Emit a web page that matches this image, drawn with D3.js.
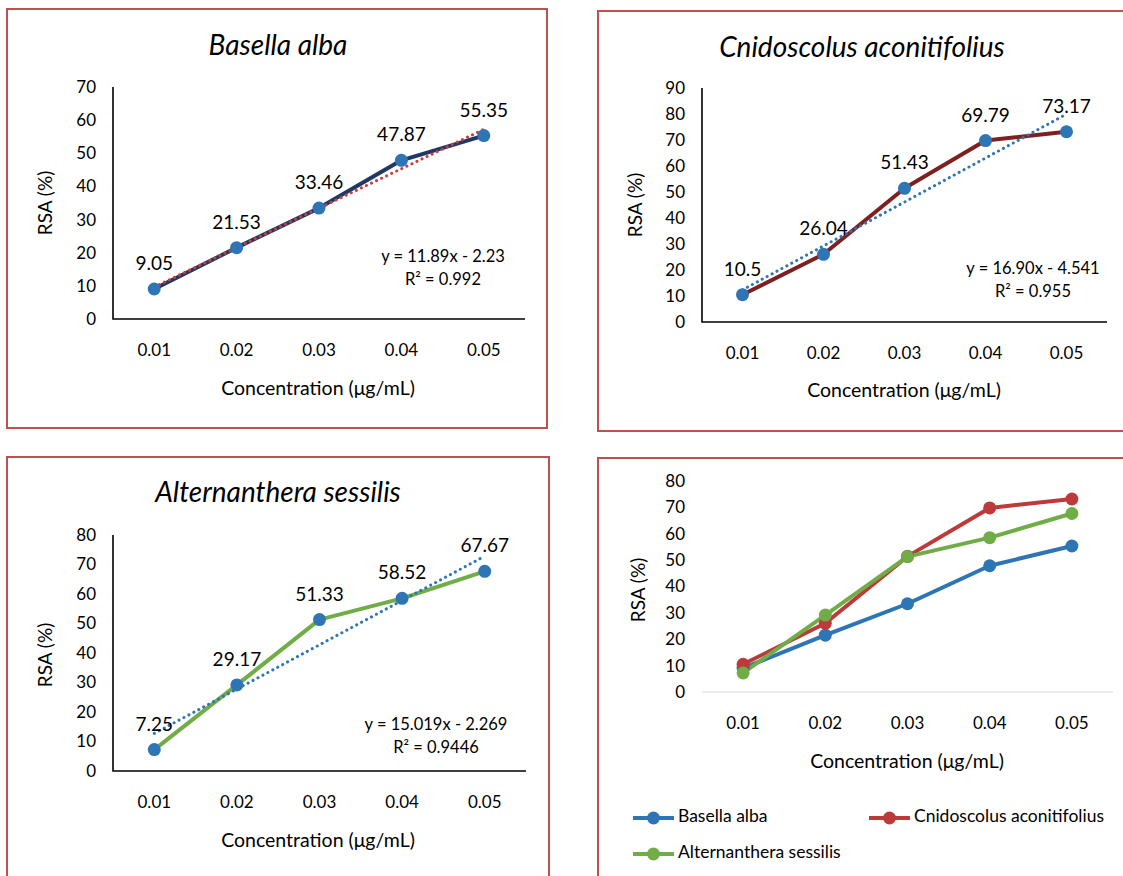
<!DOCTYPE html>
<html><head><meta charset="utf-8">
<script src="https://cdn.jsdelivr.net/npm/d3@7"></script>
<style>body{margin:0;background:#fff}svg{display:block;font-family:Lato,"Open Sans",sans-serif}</style>
</head><body>
<svg id="c" width="1123" height="876"></svg>
<script>
const categories = ["0.01","0.02","0.03","0.04","0.05"];
const basella = [9.05, 21.53, 33.46, 47.87, 55.35];
const cnidoscolus = [10.5, 26.04, 51.43, 69.79, 73.17];
const alternanthera = [7.25, 29.17, 51.33, 58.52, 67.67];
const seriesNames = ["Basella alba", "Cnidoscolus aconitifolius", "Alternanthera sessilis"];
const trendSlope = [11.89, 16.90, 15.019];
const trendIntercept = [-2.23, -4.541, -2.269];
const equationText = ["y = 11.89x - 2.23", "y = 16.90x - 4.541", "y = 15.019x - 2.269"];
const r2Text = ["R² = 0.992", "R² = 0.955", "R² = 0.9446"];
const yMaxes = [70, 90, 80, 80];
const xTitle = "Concentration (μg/mL)";
const yTitle = "RSA (%)";

const svg = d3.select("#c");
const BLUE = "#2e75b6", RED = "#be3a3a", GREEN = "#70ad47";

function frame(x0,y0,x1,y1){
  svg.append("rect").attr("x",x0).attr("y",y0).attr("width",x1-x0).attr("height",y1-y0)
    .attr("fill","none").attr("stroke","#c0504d").attr("stroke-width",2);
}

function panel(o){
  const g = svg.append("g");
  const x = d3.scaleBand().domain(categories).range([o.x0,o.x1]);
  const y = d3.scaleLinear().domain([0,o.yMax]).range([o.yb,o.yt]);
  const cx = c => x(c)+x.bandwidth()/2;
  const yAxis = d3.axisLeft(y).ticks(o.yMax/10).tickSize(0).tickPadding(0);
  const ya = g.append("g").attr("transform",`translate(${o.tickRight},0)`).call(yAxis);
  ya.select(".domain").remove();
  ya.selectAll("text").attr("font-size",17).attr("fill","#000").attr("font-family","Lato,sans-serif");
  const xAxis = d3.axisBottom(x).tickSize(0).tickPadding(0);
  const xa = g.append("g").attr("transform",`translate(0,${o.yb+25})`).call(xAxis);
  xa.select(".domain").remove();
  xa.selectAll("text").attr("font-size",17).attr("fill","#000").attr("font-family","Lato,sans-serif");
  if(o.gray){
    g.append("line").attr("x1",o.x0).attr("x2",o.x1).attr("y1",o.yb).attr("y2",o.yb).attr("stroke","#d9d9d9").attr("stroke-width",1.2);
  } else {
    g.append("path").attr("d",`M${o.x0},${o.yt}V${o.yb}H${o.x1}`).attr("fill","none").attr("stroke","#000").attr("stroke-width",1.6);
  }
  if(o.title) g.append("text").attr("x",o.titleX).attr("y",o.titleY).attr("text-anchor","middle")
      .attr("font-size",28).attr("font-style","italic").text(o.title);
  g.append("text").attr("transform",`translate(${o.ylabX},${o.ylabY}) rotate(-90)`).attr("text-anchor","middle")
    .attr("dominant-baseline","middle").attr("font-size",19).text(yTitle);
  g.append("text").attr("x",o.xlabX).attr("y",o.xlabY).attr("text-anchor","middle")
    .attr("dominant-baseline","middle").attr("font-size",19.5).text(xTitle);
  const line = d3.line().x((d,i)=>cx(categories[i])).y(d=>y(d));
  o.series.forEach(s=>{
    g.append("path").datum(s.values).attr("d",line).attr("fill","none").attr("stroke",s.color)
      .attr("stroke-width",4).attr("stroke-linejoin","round");
  });
  if(o.trend!==undefined){
    const t = o.trend;
    const tv = categories.map((c,i)=>trendSlope[t]*(i+1)+trendIntercept[t]);
    g.append("path").datum([tv[0],tv[4]]).attr("d",d3.line().x((d,i)=>cx(categories[i*4])).y(d=>y(d)))
      .attr("fill","none").attr("stroke",o.trendColor).attr("stroke-width",3)
      .attr("stroke-dasharray","0.1,5.5").attr("stroke-linecap","round");
  }
  o.series.forEach(s=>{
    g.selectAll(null).data(s.values).enter().append("circle")
      .attr("cx",(d,i)=>cx(categories[i])).attr("cy",d=>y(d)).attr("r",6.5).attr("fill",s.marker);
  });
  if(o.labels){
    g.selectAll(null).data(o.series[0].values).enter().append("text")
      .attr("x",(d,i)=>cx(categories[i])).attr("y",d=>y(d)-19).attr("text-anchor","middle")
      .attr("font-size",19).text(d=>d);
  }
  if(o.trend!==undefined){
    g.append("text").attr("x",o.eqX).attr("y",o.eqY).attr("text-anchor","middle").attr("font-size",16.5).text(equationText[o.trend]);
    g.append("text").attr("x",o.eqX).attr("y",o.eqY+23).attr("text-anchor","middle").attr("font-size",16.5).text(r2Text[o.trend]);
  }
}

frame(7,9,547,428);
frame(598,11,1135,431);
frame(7,457,549,890);
frame(598,458,1135,890);

panel({x0:113,x1:525,yt:87,yb:319,yMax:yMaxes[0],tickRight:96,title:seriesNames[0],titleX:278,titleY:55,
  ylabX:47,ylabY:203,xlabX:318,xlabY:390,series:[{values:basella,color:"#203864",marker:BLUE}],
  trend:0,trendColor:"#c9403a",labels:true,eqX:443,eqY:262});
panel({x0:702,x1:1107,yt:88,yb:322,yMax:yMaxes[1],tickRight:685,title:seriesNames[1],titleX:862,titleY:57,
  ylabX:637,ylabY:205,xlabX:904,xlabY:392,series:[{values:cnidoscolus,color:"#7f1f1f",marker:BLUE}],
  trend:1,trendColor:BLUE,labels:true,eqX:1033,eqY:274});
panel({x0:113,x1:526,yt:535,yb:771,yMax:yMaxes[2],tickRight:96,title:seriesNames[2],titleX:278,titleY:502,
  ylabX:47,ylabY:655,xlabX:318,xlabY:842,series:[{values:alternanthera,color:GREEN,marker:BLUE}],
  trend:2,trendColor:BLUE,labels:true,eqX:436,eqY:730});
panel({x0:702,x1:1113,yt:481,yb:692,yMax:yMaxes[3],tickRight:685,gray:true,
  ylabX:640,ylabY:590,xlabX:907,xlabY:763,
  series:[{values:basella,color:BLUE,marker:BLUE},{values:cnidoscolus,color:RED,marker:RED},{values:alternanthera,color:GREEN,marker:GREEN}]});

const legendItems = [
  {name:seriesNames[0],color:BLUE,x:633,y:818},
  {name:seriesNames[1],color:RED,x:869,y:818},
  {name:seriesNames[2],color:GREEN,x:633,y:854}
];
const lg = svg.append("g");
legendItems.forEach(d=>{
  lg.append("line").attr("x1",d.x).attr("x2",d.x+41).attr("y1",d.y).attr("y2",d.y).attr("stroke",d.color).attr("stroke-width",4);
  lg.append("circle").attr("cx",d.x+20.5).attr("cy",d.y).attr("r",6.5).attr("fill",d.color);
  lg.append("text").attr("x",d.x+45).attr("y",d.y).attr("dominant-baseline","middle").attr("font-size",17.5).text(d.name);
});
</script>
</body></html>
